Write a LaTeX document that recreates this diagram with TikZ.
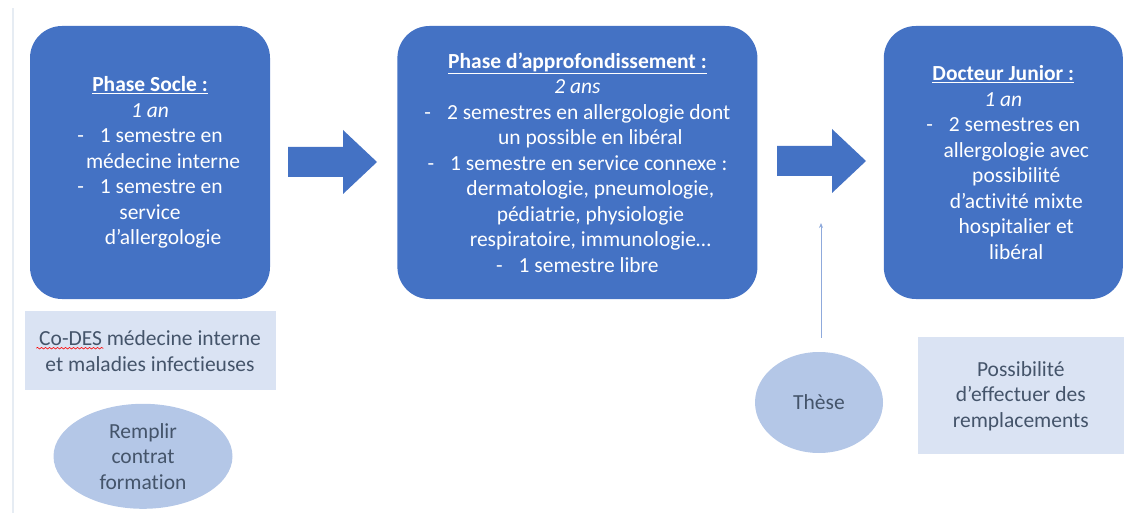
\documentclass[tikz,border=0pt]{standalone}
\usepackage{fontspec}
\setmainfont[Ligatures=NoCommon]{Carlito}
\usepackage{tikz}
\usetikzlibrary{positioning,arrows.meta,calc,shapes.geometric,decorations.pathmorphing}
\definecolor{officeblue}{HTML}{4472C4}
\definecolor{paleblue}{HTML}{DAE3F3}
\definecolor{midblue}{HTML}{B4C7E7}
\definecolor{slatetext}{HTML}{44546A}
\definecolor{thinblue}{HTML}{8FAADC}
\definecolor{edgegrey}{HTML}{E6ECF3}
\newcommand\ind{\hspace*{26pt}}
\newcommand\dash{-\hspace{16pt}}
\tikzset{
x=1pt, y=-1pt, % one unit is one pixel of the reference
phase/.style={fill=officeblue, text=white, rounded corners=32pt, align=center,
  minimum height=273pt, inner sep=0pt, font=\fontsize{21.5}{25.5}\selectfont}, % the three blue stages
note/.style={fill=paleblue, text=slatetext, align=center, inner sep=0pt,
  font=\fontsize{21.5}{25.5}\selectfont}, % pale remarks
bubble/.style={ellipse, fill=midblue, text=slatetext, align=center, inner sep=0pt,
  font=\fontsize{21.5}{25.5}\selectfont}, % ovals
bigarrow/.style={fill=officeblue}, % block arrows between stages
thinarrow/.style={draw=thinblue, line width=0.8pt, -{Stealth[length=5pt,width=4pt]}},
spellwave/.style={draw=red, line width=0.6pt, decorate,
  decoration={snake, amplitude=0.8pt, segment length=4pt}},
}
\begin{document}
\begin{tikzpicture}
\useasboundingbox (0,0) rectangle (1132,513);
\draw[edgegrey, line width=2pt] (13,8) -- (13,513);

\node[phase, minimum width=240pt] (socle) at (150,162.5)
  {\underline{\textbf{Phase Socle :}}\\ \textit{1 an}\\ \dash 1 semestre en\\
   \ind médecine interne\\ \dash 1 semestre en\\ service\\ \ind d’allergologie};
\node[phase, minimum width=360pt, right=127pt of socle] (appro)
  {\underline{\textbf{Phase d’approfondissement :}}\\ \textit{2 ans}\\
   \dash 2 semestres en allergologie dont\\ \ind un possible en libéral\\
   \dash 1 semestre en service connexe :\\ \ind dermatologie, pneumologie,\\
   \ind pédiatrie, physiologie\\ \ind respiratoire, immunologie…\\ \dash 1 semestre libre};
\node[phase, minimum width=239pt, right=126pt of appro] (junior)
  {\underline{\textbf{Docteur Junior :}}\\ \textit{1 an}\\ \dash 2 semestres en\\
   \ind allergologie avec\\ \ind possibilité\\ \ind d’activité mixte\\
   \ind hospitalier et\\ \ind libéral};

\node[note, minimum width=251pt, minimum height=79pt, below=12pt of socle] (codes)
  {Co-DES médecine interne\\ et maladies infectieuses};
\node[bubble, minimum width=179pt, minimum height=105pt, below=13pt of codes, xshift=-7pt] (contrat)
  {Remplir\\ contrat\\ formation};
\node[note, minimum width=206pt, minimum height=117pt, below=38pt of junior, xshift=17.5pt] (rempl)
  {Possibilité\\ d’effectuer des\\ remplacements};
\node[bubble, minimum width=128pt, minimum height=101pt] (these) at (819,402.5) {Thèse};

% red spelling mark under Co-DES
\coordinate (wave) at ($(codes.north west)+(12,37)$);
\draw[spellwave] (wave) -- ++(67,0);

% block arrows
\coordinate (a1) at (288,162);
\coordinate (a2) at (777,161);
\foreach \p in {a1,a2}
  \fill[bigarrow] (\p) ++(0,-15) -- ++(55,0) -- ++(0,-17) -- ++(34,32)
    -- ++(-34,32) -- ++(0,-17) -- ++(-55,0) -- cycle;

\coordinate (tip) at (821,223);
\draw[thinarrow, shorten <=14pt] (these.north -| tip) -- (tip);
\end{tikzpicture}
\end{document}
